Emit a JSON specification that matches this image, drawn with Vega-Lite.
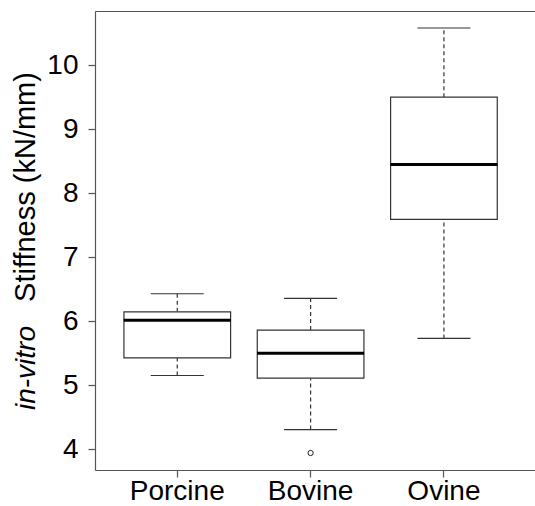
{
  "$schema": "https://vega.github.io/schema/vega-lite/v6.json",
  "autosize": {"type": "none"},
  "padding": {"left": 95, "top": 11, "right": 0, "bottom": 36},
  "width": 440,
  "height": 459,
  "background": "white",
  "config": {
    "view": {"stroke": null},
    "font": "Liberation Sans",
    "axis": {"grid": false, "labelFont": "Liberation Sans", "titleFont": "Liberation Sans", "labelColor": "black", "titleColor": "black", "domainColor": "#555", "tickColor": "#555", "domainWidth": 1.2, "tickWidth": 1.2}
  },
  "datasets": {
    "summary": [
      {"species": "Porcine", "min": 5.155, "q1": 5.43, "median": 6.02, "q3": 6.15, "max": 6.432},
      {"species": "Bovine", "min": 4.31, "q1": 5.113, "median": 5.504, "q3": 5.864, "max": 6.36},
      {"species": "Ovine", "min": 5.734, "q1": 7.596, "median": 8.451, "q3": 9.505, "max": 10.585}
    ],
    "outliers": [
      {"species": "Bovine", "value": 3.944}
    ]
  },
  "resolve": {"axis": {"x": "independent", "y": "independent"}},
  "layer": [
    {
      "data": {"name": "summary"},
      "encoding": {
        "x": {
          "field": "species", "type": "nominal", "sort": ["Porcine", "Bovine", "Ovine"],
          "scale": {"type": "band", "paddingInner": 0, "paddingOuter": 0.15, "align": 0.39},
          "axis": {"orient": "bottom", "title": null, "labelAngle": 0, "labelFontSize": 28, "labelPadding": 0, "tickSize": 7, "domain": true}
        }
      },
      "layer": [
        {
          "mark": {"type": "rule", "color": "#333", "strokeWidth": 1.2, "strokeDash": [4, 3]},
          "encoding": {
            "y": {"field": "q3", "type": "quantitative", "scale": {"domain": [3.678, 10.851], "nice": false, "zero": false},
              "axis": {"orient": "left", "values": [4, 5, 6, 7, 8, 9, 10], "format": "d", "labelFontSize": 28, "labelPadding": 10, "tickSize": 7, "title": "Stiffness (kN/mm)", "titleFontSize": 29, "titleFontWeight": "normal", "titleAngle": -90, "titleAlign": "center", "titleBaseline": "alphabetic", "titleX": -61, "titleY": 175.5}},
            "y2": {"field": "max"}
          }
        },
        {
          "mark": {"type": "rule", "color": "#333", "strokeWidth": 1.2, "strokeDash": [4, 3]},
          "encoding": {
            "y": {"field": "min", "type": "quantitative"},
            "y2": {"field": "q1"}
          }
        },
        {
          "mark": {"type": "tick", "color": "#333", "opacity": 1, "size": 53, "thickness": 1.2},
          "encoding": {"y": {"field": "max", "type": "quantitative"}}
        },
        {
          "mark": {"type": "tick", "color": "#333", "opacity": 1, "size": 53, "thickness": 1.2},
          "encoding": {"y": {"field": "min", "type": "quantitative"}}
        },
        {
          "mark": {"type": "bar", "fill": "white", "stroke": "#333", "strokeWidth": 1.2, "width": {"band": 0.8}},
          "encoding": {
            "y": {"field": "q1", "type": "quantitative"},
            "y2": {"field": "q3"}
          }
        },
        {
          "mark": {"type": "tick", "color": "black", "opacity": 1, "size": 107, "thickness": 3},
          "encoding": {"y": {"field": "median", "type": "quantitative"}}
        },
        {
          "data": {"name": "outliers"},
          "mark": {"type": "point", "shape": "circle", "filled": false, "color": "#222", "opacity": 1, "size": 28, "strokeWidth": 1},
          "encoding": {"y": {"field": "value", "type": "quantitative"}}
        }
      ]
    },
    {
      "data": {"name": "summary"},
      "mark": {"type": "point", "opacity": 0},
      "encoding": {
        "x": {
          "field": "species", "type": "nominal", "sort": ["Porcine", "Bovine", "Ovine"],
          "scale": {"type": "band", "paddingInner": 0, "paddingOuter": 0.15, "align": 0.39},
          "axis": {"orient": "top", "title": null, "labels": false, "ticks": false, "domain": true}
        },
        "y": {
          "field": "median", "type": "quantitative",
          "scale": {"domain": [3.678, 10.851], "nice": false, "zero": false},
          "axis": {"orient": "left", "labels": false, "ticks": false, "domain": false, "title": "in-vitro", "titleFontSize": 28, "titleFontStyle": "italic", "titleFontWeight": "normal", "titleAngle": -90, "titleAlign": "center", "titleBaseline": "alphabetic", "titleX": -61, "titleY": 356.5}
        }
      }
    }
  ]
}
